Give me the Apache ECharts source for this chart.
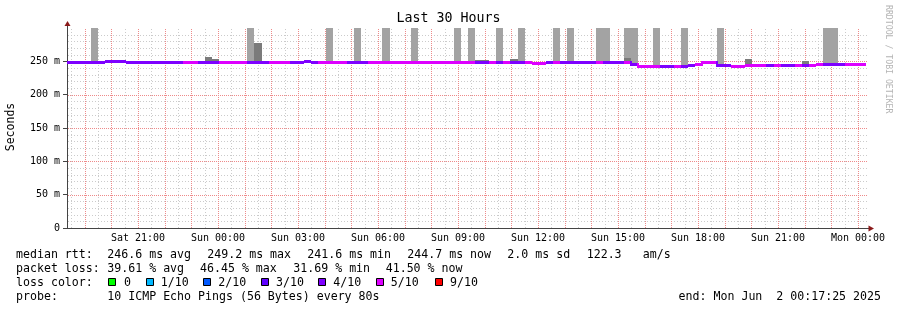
<!DOCTYPE html>
<html><head><meta charset="utf-8">
<script src="https://cdn.jsdelivr.net/npm/echarts@6/dist/echarts.min.js"></script>
<style>html,body{margin:0;padding:0;background:#fff}#c{width:897px;height:310px}</style>
</head><body><div id="c"></div>
<script>
// ---------- data ----------
const xMinHour = 18 + 20.25 / 60;          // Sat 18:20:15 (hours since Sat 00:00)
const xMaxHour = xMinHour + 30;            // 30 hours window
const binFirstStart = 18 + 10 / 60;        // first 960 s bin starts Sat 18:10
const binHours = 16 / 60;                  // 960 s step

const xTickHours = [21, 24, 27, 30, 33, 36, 39, 42, 45, 48];
const xTickLabels = ['Sat 21:00', 'Sun 00:00', 'Sun 03:00', 'Sun 06:00', 'Sun 09:00',
                     'Sun 12:00', 'Sun 15:00', 'Sun 18:00', 'Sun 21:00', 'Mon 00:00'];
const yTickValues = [0, 50, 100, 150, 200, 250];
const yTickLabels = ['0', '50 m', '100 m', '150 m', '200 m', '250 m'];

// median RTT per bin (ms)
const median = [
  248.8, 248.8, 248.8, 248.8, 248.8, 248.8, 249.5, 249.5, 249.5, 248.6,
  248.6, 248.6, 248.3, 248.3, 248.3, 248.3, 248.3, 248.3, 248.3, 249.0,
  248.3, 248.3, 248.0, 248.0, 248.0, 248.0, 248.0, 248.0, 248.0, 248.0,
  248.0, 248.0, 248.8, 248.8, 249.5, 248.8, 248.3, 248.3, 248.3, 248.3,
  249.0, 248.5, 248.5, 248.3, 248.3, 248.3, 248.3, 248.3, 249.0, 248.0,
  248.0, 248.0, 248.0, 249.0, 248.0, 248.0, 248.0, 248.0, 248.5, 248.5,
  248.0, 248.5, 248.5, 248.5, 248.5, 248.0, 246.5, 247.5, 248.0, 248.0,
  248.0, 248.0, 248.0, 248.0, 248.0, 248.0, 248.0, 248.0, 248.0, 248.0,
  245.0, 242.5, 242.5, 242.5, 242.5, 242.5, 242.5, 243.0, 244.0, 246.0,
  248.8, 248.8, 243.2, 243.2, 243.0, 243.0, 243.5, 243.5, 244.0, 244.0,
  244.0, 244.0, 244.0, 244.0, 244.0, 244.0, 245.5, 246.0, 246.0, 245.0,
  244.7, 244.7, 244.7
];
// loss bucket per bin (tenths lost): 4 -> 4/10, 5 -> 5/10
const lossBucket = [
  4, 4, 4, 4, 4, 4, 4, 4, 4, 4,
  4, 4, 4, 4, 4, 4, 4, 5, 5, 4,
  4, 4, 5, 5, 5, 5, 4, 4, 4, 5,
  5, 5, 4, 4, 4, 4, 5, 5, 5, 5,
  4, 4, 4, 5, 5, 5, 5, 5, 5, 5,
  5, 5, 5, 5, 5, 5, 5, 5, 4, 4,
  5, 4, 5, 4, 4, 5, 5, 5, 4, 5,
  4, 4, 4, 4, 4, 5, 4, 4, 4, 5,
  4, 5, 5, 5, 4, 4, 5, 4, 4, 5,
  5, 5, 4, 4, 5, 5, 5, 5, 5, 4,
  5, 4, 4, 5, 4, 5, 5, 4, 4, 4,
  5, 5, 5
];
// bins whose smoke reaches the top of the graph (an outlier ping above 300 ms)
const smokeHighBins = [4, 26, 37, 41, 45, 49, 55, 57, 61, 64, 69, 71, 75, 76, 79, 80, 83, 87, 92, 107, 108];
const smokeHighTop = 300;
// bins with denser smoke: [bin, top ms]
const smokeDense = [[20, 256], [21, 253], [27, 277], [58, 251.5], [59, 251.5], [63, 253.5], [79, 254.5], [96, 253], [104, 251]];

const lossLabels = ['0', '1/10', '2/10', '3/10', '4/10', '5/10', '9/10'];
const lossColors = ['#00ff00', '#00b8ff', '#0059ff', '#5e00ff', '#7e00ff', '#dd00ff', '#ff0000'];

// ---------- chart ----------
const F = 'DejaVu Sans Mono';
const G = {left: 67, top: 28, width: 800, height: 200};
const yMax = 300;
const chart = echarts.init(document.getElementById('c'), null, {renderer: 'canvas'});

const binStart = i => Math.max(binFirstStart + i * binHours, xMinHour);
const binEnd = i => binFirstStart + (i + 1) * binHours;

const medianData = median.map((v, i) => [binStart(i), binEnd(i), v, lossBucket[i]]);
const smokeData = [];
smokeHighBins.forEach(i => smokeData.push([binStart(i), binEnd(i), median[i], smokeHighTop, 0]));
smokeDense.forEach(([i, t]) => smokeData.push([binStart(i), binEnd(i), median[i], t, 1]));

// grid lines: [orientation (0 vertical, 1 horizontal), position]
const gridMinor = [], gridMajor = [];
for (let k = Math.ceil(xMinHour * 2); k <= Math.floor(xMaxHour * 2); k++) {
  (k % 2 === 0 ? gridMajor : gridMinor).push([0, k / 2]);
}
for (let v = 10; v < yMax; v += 10) (v % 50 === 0 ? gridMajor : gridMinor).push([1, v]);

const smokeColors = ['#a3a3a3', '#7b7b7b'];

const legendRows = [
  {y: 254.5, items: [[16, 'median rtt:'], [107.3, '246.6 ms avg'], [207.3, '249.2 ms max'], [307.3, '241.6 ms min'], [407.3, '244.7 ms now'], [507.3, '2.0 ms sd'], [586.7, '122.3'], [642.7, 'am/s']]},
  {y: 268.5, items: [[16, 'packet loss:'], [107.3, '39.61 % avg'], [200, '46.45 % max'], [293.3, '31.69 % min'], [385.7, '41.50 % now']]},
  {y: 282.5, items: [[16, 'loss color:']]},
  {y: 296.5, items: [[16, 'probe:'], [107.3, '10 ICMP Echo Pings (56 Bytes) every 80s']]}
];
const lossBoxX = [108.3, 146, 203.3, 260.7, 318.3, 376, 435];
const lossTextX = [124, 160.7, 218.3, 276, 333.3, 390.7, 450];

const graphics = [];
graphics.push({type: 'text', x: 448.5, y: 19, style: {text: 'Last 30 Hours', font: '13.3px "' + F + '"', fill: '#000', align: 'center', verticalAlign: 'middle'}});
graphics.push({type: 'text', x: 11, y: 127, rotation: Math.PI / 2, style: {text: 'Seconds', font: '11.5px "' + F + '"', fill: '#000', align: 'center', verticalAlign: 'middle'}});
graphics.push({type: 'text', x: 888, y: 5, rotation: -Math.PI / 2, style: {text: 'RRDTOOL / TOBI OETIKER', font: '8.2px "' + F + '"', fill: '#b4b4b4', align: 'left', verticalAlign: 'middle'}});
legendRows.forEach(r => r.items.forEach(([x, t]) => graphics.push({type: 'text', x, y: r.y, style: {text: t, font: '11.6px "' + F + '"', fill: '#000', align: 'left', verticalAlign: 'middle'}})));
lossLabels.forEach((t, k) => {
  graphics.push({type: 'rect', shape: {x: Math.round(lossBoxX[k]) + 0.5, y: 278.5, width: 7, height: 7}, style: {fill: lossColors[k], stroke: '#000', lineWidth: 1}});
  graphics.push({type: 'text', x: lossTextX[k], y: 282.5, style: {text: t, font: '11.6px "' + F + '"', fill: '#000', align: 'left', verticalAlign: 'middle'}});
});
graphics.push({type: 'text', x: 881, y: 296.5, style: {text: 'end: Mon Jun  2 00:17:25 2025', font: '11.6px "' + F + '"', fill: '#000', align: 'right', verticalAlign: 'middle'}});
// axis arrows
const arrowColor = '#8b1a1a';
graphics.push({type: 'line', shape: {x1: G.left + 0.5, y1: G.top, x2: G.left + 0.5, y2: G.top - 3}, style: {stroke: '#444', lineWidth: 1}});
graphics.push({type: 'polygon', shape: {points: [[G.left + 0.5, G.top - 7], [G.left - 2.5, G.top - 2], [G.left + 3.5, G.top - 2]]}, style: {fill: arrowColor}});
const xr = G.left + G.width;
graphics.push({type: 'line', shape: {x1: xr, y1: G.top + G.height + 0.5, x2: xr + 2, y2: G.top + G.height + 0.5}, style: {stroke: '#444', lineWidth: 1}});
graphics.push({type: 'polygon', shape: {points: [[xr + 7, G.top + G.height + 0.5], [xr + 1.5, G.top + G.height - 2.5], [xr + 1.5, G.top + G.height + 3.5]]}, style: {fill: arrowColor}});

function gridRenderer(stroke, dash) {
  return (params, api) => {
    const o = api.value(0), p = api.value(1);
    if (o === 0) {
      const a = api.coord([p, 0]), b = api.coord([p, yMax]);
      const x = Math.round(a[0]) + 0.5;
      return {type: 'line', shape: {x1: x, y1: a[1], x2: x, y2: b[1]}, style: {stroke: stroke, lineWidth: 1, lineDash: dash.slice(), fill: null}};
    }
    const a = api.coord([xMinHour, p]), b = api.coord([xMaxHour, p]);
    const y = Math.round(a[1]) + 0.5;
    return {type: 'line', shape: {x1: a[0] + 1, y1: y, x2: b[0], y2: y}, style: {stroke: stroke, lineWidth: 1, lineDash: dash.slice(), fill: null}};
  };
}

chart.setOption({
  animation: false,
  backgroundColor: '#ffffff',
  grid: {left: G.left, top: G.top, width: G.width, height: G.height, containLabel: false},
  xAxis: {
    type: 'value', min: xMinHour, max: xMaxHour,
    axisLine: {show: true, onZero: false, lineStyle: {color: '#444', width: 1}},
    axisTick: {show: false},
    splitLine: {show: false},
    axisLabel: {
      customValues: xTickHours,
      formatter: v => { const k = xTickHours.findIndex(h => Math.abs(h - v) < 1e-6); return k >= 0 ? xTickLabels[k] : ''; },
      fontFamily: F, fontSize: 10, color: '#000', margin: 5, hideOverlap: false
    }
  },
  yAxis: {
    type: 'value', min: 0, max: yMax, interval: 50,
    axisLine: {show: true, lineStyle: {color: '#444', width: 1}},
    axisTick: {show: true, length: 4, lineStyle: {color: '#444'}, customValues: yTickValues},
    splitLine: {show: false},
    axisLabel: {
      formatter: v => { const k = yTickValues.indexOf(v); return k >= 0 ? yTickLabels[k] : ''; },
      fontFamily: F, fontSize: 10, color: '#000', margin: 7
    }
  },
  graphic: graphics,
  series: [
    {type: 'custom', name: 'gridMinor', z: 1, silent: true, data: gridMinor, renderItem: gridRenderer('#cbcbcb', [1, 2])},
    {type: 'custom', name: 'gridMajor', z: 1, silent: true, data: gridMajor, renderItem: gridRenderer('#ee8a8a', [1, 1])},
    {
      type: 'custom', name: 'smoke', z: 2, clip: true,
      data: smokeData,
      renderItem: (params, api) => {
        const s = api.value(0), e = api.value(1), b = api.value(2), t = api.value(3), lv = api.value(4);
        const p0 = api.coord([s, t]), p1 = api.coord([e, b]);
        const x0 = Math.round(p0[0]), x1 = Math.round(p1[0]);
        const y0 = Math.round(p0[1]), y1 = Math.round(p1[1]);
        return {type: 'rect', shape: {x: x0, y: y0, width: x1 - x0, height: y1 - y0}, style: {fill: smokeColors[lv]}};
      }
    },
    {
      type: 'custom', name: 'median', z: 3, clip: true,
      data: medianData,
      renderItem: (params, api) => {
        const s = api.value(0), e = api.value(1), v = api.value(2), l = api.value(3);
        const p0 = api.coord([s, v]), p1 = api.coord([e, v]);
        const x0 = Math.round(p0[0]), x1 = Math.round(p1[0]);
        const yc = Math.round(p0[1] - 1.5);
        const children = [{type: 'rect', shape: {x: x0, y: yc, width: x1 - x0, height: 3}, style: {fill: lossColors[l]}}];
        const i = params.dataIndex;
        if (i > 0) {
          const pp = api.coord([s, median[i - 1]]);
          const yp = Math.round(pp[1] - 1.5);
          if (Math.abs(yp - yc) > 1) {
            const top = Math.min(yp, yc), bot = Math.max(yp, yc) + 3;
            children.push({type: 'rect', shape: {x: x0 - 1, y: top, width: 2, height: bot - top}, style: {fill: lossColors[l]}});
          }
        }
        return {type: 'group', children};
      }
    }
  ]
});
</script>
</body></html>
